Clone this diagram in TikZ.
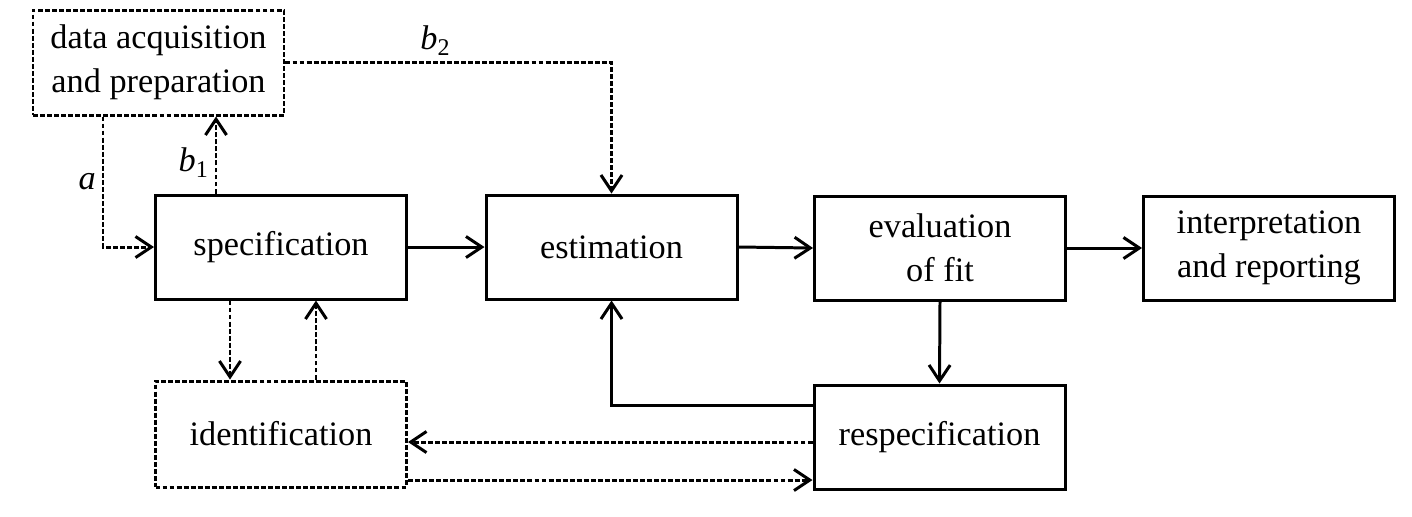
\documentclass[tikz,border=0pt]{standalone}
\usepackage{fontspec}
\setmainfont{Liberation Serif}
\usetikzlibrary{arrows.meta}

\begin{document}
\begin{tikzpicture}[
    stage/.style={draw,line width=1.7pt,minimum width=5.02cm,minimum height=2.08cm,
      align=center,font=\fontsize{19.5}{25}\selectfont,inner sep=0pt},
    dstage/.style={stage,dash pattern=on 2.8pt off 1.2pt},
    link/.style={line width=1.7pt,-{Straight Barb[length=9pt,width=12pt,line width=1.7pt]}},
    dlink/.style={link,dash pattern=on 2.8pt off 1.2pt},
    lbl/.style={font=\fontsize{19.5}{22}\selectfont}]
    \useasboundingbox (0,0) rectangle (28.24,-10.32);

    \coordinate (c-data) at (3.17,-1.25);
    \coordinate (c-spec) at (5.62,-4.94);
    \coordinate (c-est) at (12.23,-4.94);
    \coordinate (c-eval) at (18.8,-4.96);
    \coordinate (c-interp) at (25.38,-4.96);
    \coordinate (c-ident) at (5.62,-8.68);
    \coordinate (c-respec) at (18.79,-8.74);

    \node [dstage,minimum height=2.1cm] (data) at (c-data)
    {data acquisition\\and preparation};
    \node [stage] (spec) at (c-spec) {specification};
    \node [stage] (est) at (c-est) {estimation};
    \node [stage] (eval) at (c-eval) {evaluation\\of fit};
    \node [stage] (interp) at (c-interp) {interpretation\\and reporting};
    \node [dstage,minimum height=2.12cm] (ident) at (c-ident) {identification};
    \node [stage] (respec) at (c-respec) {respecification};

    \coordinate (a-top) at ([xshift=-1.11cm]data.south);
    \coordinate (b1-foot) at ([xshift=-1.3cm]spec.north);
    \coordinate (id-in) at ([xshift=-1.02cm]spec.south);
    \coordinate (id-out) at ([xshift=0.7cm]ident.north);
    \coordinate (re-back) at ([yshift=0.64cm]respec.west);
    \coordinate (re-id) at ([yshift=-0.1cm]respec.west);
    \coordinate (id-re) at ([yshift=-0.92cm]ident.east);

    \draw [dlink] (a-top) |- node [lbl,pos=0.25,left] {\textit{a}} (spec.west);
    \draw [dlink] (b1-foot) -- node [lbl,pos=0.4,left]
    {\textit{b}\textsubscript{1}} (b1-foot |- data.south);
    \draw [dlink] (data.east) -| node [lbl,pos=0.23,above]
    {\textit{b}\textsubscript{2}} (est.north);

    \draw [link] (spec.east) -- (est.west);
    \draw [link] (est.east) -- (eval.west);
    \draw [link] (eval.east) -- (interp.west);
    \draw [link] (eval.south) -- (respec.north);
    \draw [link] (re-back) -| (est.south);

    \draw [dlink] (id-in) -- (id-in |- ident.north);
    \draw [dlink] (id-out) -- (id-out |- spec.south);
    \draw [dlink] (re-id) -- (re-id -| ident.east);
    \draw [dlink] (id-re) -- (id-re -| respec.west);
  \end{tikzpicture}
\end{document}
